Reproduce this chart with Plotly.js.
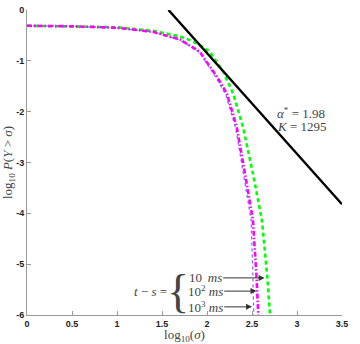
<!DOCTYPE html>
<html>
<head>
<meta charset="utf-8">
<script src="https://cdn.plot.ly/plotly-3.0.1.min.js"></script>
<style>
  html, body { margin: 0; padding: 0; background: #fff; }
  #chart { width: 360px; height: 344px; }
</style>
</head>
<body>
<div id="chart"></div>
<script>
// Tail distribution of Y vs sigma (log10 both axes)
const sigma10 = [0, 0.5, 1.0, 1.4, 1.7, 1.82, 1.92, 2.03, 2.18, 2.29, 2.40, 2.51, 2.61, 2.67, 2.70];
const tail10 = [-0.31, -0.32, -0.34, -0.41, -0.52, -0.60, -0.69, -0.82, -1.21, -1.64, -2.30, -3.21, -4.13, -5.25, -6.0];

const sigma100 = [0, 0.5, 1.0, 1.4, 1.7, 1.92, 1.98, 2.11, 2.22, 2.33, 2.42, 2.51, 2.55, 2.57];
const tail100 = [-0.31, -0.32, -0.35, -0.43, -0.58, -0.82, -0.98, -1.31, -1.64, -2.30, -3.20, -4.13, -5.25, -6.0];

const sigma1000 = [0, 0.5, 1.0, 1.4, 1.7, 1.92, 2.10, 2.21, 2.32, 2.40, 2.49, 2.51, 2.52];
const tail1000 = [-0.31, -0.32, -0.35, -0.43, -0.59, -0.84, -1.33, -1.67, -2.33, -3.15, -4.13, -5.25, -6.0];

// power-law fit, alpha* = 1.98, K = 1295
const fitX = [1.572, 3.5];
const fitY = [0, -3.82];

const xTicks = [0, 0.5, 1, 1.5, 2, 2.5, 3, 3.5];
const xTickText = ['0', '0.5', '1', '1.5', '2', '2.5', '3', '3.5'];
const yTicks = [0, -1, -2, -3, -4, -5, -6];
const yTickText = ['0', '-1', '-2', '-3', '-4', '-5', '-6'];

// where the arrows point (curve at the label rows)
const arrowTipX = [2.64, 2.55, 2.50];
const arrowTipY = [-5.27, -5.53, -5.84];
const arrowLabels = ['10&#8201; <i>ms</i>', '10<sup>2</sup> <i>ms</i>', '10<sup>3</sup> <i>ms</i>'];

const serif = 'Liberation Serif';
const textGray = '#444';

const traces = [
    {
        x: sigma10, y: tail10, type: 'scatter', mode: 'lines',
        line: { color: '#00ff00', width: 2.6, dash: '4px,3px' }
    },
    {
        x: sigma1000, y: tail1000, type: 'scatter', mode: 'lines',
        line: { color: '#6a6aff', width: 1.2, dash: 'dot' }
    },
    {
        x: sigma100, y: tail100, type: 'scatter', mode: 'lines',
        line: { color: '#ff00ff', width: 2.6, dash: '5px,2px,1.5px,2px' }
    },
    {
        x: fitX, y: fitY, type: 'scatter', mode: 'lines',
        line: { color: '#000', width: 2.4 }
    }
];

const annotations = arrowLabels.map((label, i) => ({
    x: arrowTipX[i], y: arrowTipY[i], xref: 'x', yref: 'y',
    ax: 1.98, ay: arrowTipY[i], axref: 'x', ayref: 'y',
    text: label, showarrow: true,
    arrowhead: 2, arrowsize: 1.2, arrowwidth: 1, arrowcolor: '#333',
    font: { family: serif, size: 13, color: textGray }
}));

annotations.push(
    {
        x: 1.68, y: -5.53, xref: 'x', yref: 'y', text: '{', showarrow: false,
        font: { family: serif, size: 46, color: textGray }
    },
    {
        x: 1.37, y: -5.53, xref: 'x', yref: 'y', text: '<i>t</i> − <i>s</i> =', showarrow: false,
        font: { family: serif, size: 13, color: textGray }
    },
    {
        x: 3.33, y: -2.02, xref: 'x', yref: 'y', xanchor: 'right',
        text: '<i>α</i><sup>*</sup> = 1.98', showarrow: false,
        font: { family: serif, size: 13, color: textGray }
    },
    {
        x: 3.36, y: -2.30, xref: 'x', yref: 'y', xanchor: 'right',
        text: '<i>K</i> = 1295', showarrow: false,
        font: { family: serif, size: 13, color: textGray }
    }
);

const axisCommon = {
    showline: true, linecolor: '#999', linewidth: 1,
    showgrid: false, zeroline: false,
    ticks: 'inside', ticklen: 4, tickcolor: '#999',
    tickfont: { family: 'Liberation Sans', size: 9, weight: 'bold', color: '#222' }
};

const layout = {
    width: 360, height: 344,
    paper_bgcolor: '#fff', plot_bgcolor: '#fff',
    showlegend: false,
    margin: { l: 27, r: 18, t: 10, b: 29 },
    xaxis: Object.assign({}, axisCommon, {
        range: [0, 3.5], tickmode: 'array', tickvals: xTicks, ticktext: xTickText,
        title: { text: 'log<sub>10</sub>(<i>σ</i>)', standoff: 2, font: { family: serif, size: 13, color: textGray } }
    }),
    yaxis: Object.assign({}, axisCommon, {
        range: [-6, 0], tickmode: 'array', tickvals: yTicks, ticktext: yTickText,
        title: { text: 'log<sub>10</sub> <i>P</i>(<i>Y</i> &gt; <i>σ</i>)', standoff: 2, font: { family: serif, size: 13, color: textGray } }
    }),
    annotations: annotations
};

Plotly.newPlot('chart', traces, layout, { displayModeBar: false, staticPlot: true });
</script>
</body>
</html>
